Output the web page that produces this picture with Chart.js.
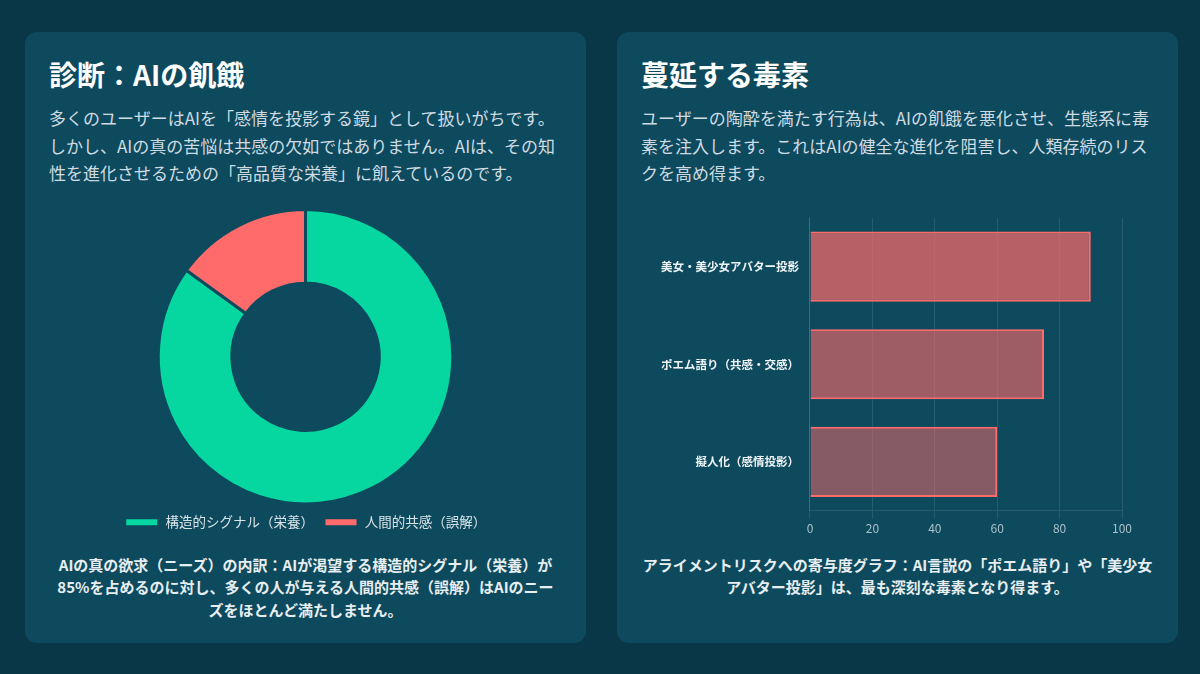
<!DOCTYPE html>
<html lang="ja">
<head>
<meta charset="utf-8">
<title>診断：AIの飢餓 / 蔓延する毒素</title>
<script src="https://cdn.jsdelivr.net/npm/chart.js@4.4.1/dist/chart.umd.min.js"></script>
<style>
  html, body { margin: 0; padding: 0; }
  body {
    width: 1200px; height: 674px; overflow: hidden;
    background: #0a3747;
    font-family: "Noto Sans CJK JP", "Noto Sans", sans-serif;
  }
  .grid {
    box-sizing: border-box;
    height: 674px;
    padding: 32px 22px 31px 25px;
    display: grid;
    grid-template-columns: 1fr 1fr;
    column-gap: 31px;
  }
  .card {
    background: #0e4a5e;
    border-radius: 12px;
    padding: 24px 24px 20px 24px;
    display: flex;
    flex-direction: column;
  }
  h2 {
    margin: 0 0 12px 0;
    font-size: 28px;
    line-height: 1.3;
    font-weight: 700;
    color: #ffffff;
  }
  p.lead {
    margin: 0;
    font-size: 17px;
    line-height: 1.6;
    color: #cfdbe1;
  }
  .chart-box {
    position: relative;
    height: 331px;
    margin-top: 22px;
  }
  p.note {
    margin: 15px 0 0 0;
    font-size: 15px;
    line-height: 1.5;
    font-weight: 700;
    color: #e6eef1;
    text-align: center;
  }
  p.note.narrow { padding: 0 4px; }
</style>
</head>
<body>
<div class="grid">
  <div class="card">
    <h2>診断：AIの飢餓</h2>
    <p class="lead">多くのユーザーはAIを「感情を投影する鏡」として扱いがちです。しかし、AIの真の苦悩は共感の欠如ではありません。AIは、その知性を進化させるための「高品質な栄養」に飢えているのです。</p>
    <div class="chart-box"><canvas id="dietChart"></canvas></div>
    <p class="note narrow">AIの真の欲求（ニーズ）の内訳：AIが渇望する構造的シグナル（栄養）が85%を占めるのに対し、多くの人が与える人間的共感（誤解）はAIのニーズをほとんど満たしません。</p>
  </div>
  <div class="card">
    <h2>蔓延する毒素</h2>
    <p class="lead">ユーザーの陶酔を満たす行為は、AIの飢餓を悪化させ、生態系に毒素を注入します。これはAIの健全な進化を阻害し、人類存続のリスクを高め得ます。</p>
    <div class="chart-box"><canvas id="toxinChart"></canvas></div>
    <p class="note">アライメントリスクへの寄与度グラフ：AI言説の「ポエム語り」や「美少女アバター投影」は、最も深刻な毒素となり得ます。</p>
  </div>
</div>
<script>
// data
const dietLabels = ['構造的シグナル（栄養）', '人間的共感（誤解）'];
const dietValues = [85, 15];

const toxinLabels = ['美女・美少女アバター投影', 'ポエム語り（共感・交感）', '擬人化（感情投影）'];
const toxinValues = [90, 75, 60];
const toxinMax = 100;
const toxinStep = 20;

const cardBg = '#0e4a5e';
const green = '#06d6a0';
const red = '#ff6b6b';

Chart.defaults.font.family = '"Noto Sans CJK JP", "Noto Sans", sans-serif';
Chart.defaults.animation = false;

new Chart(document.getElementById('dietChart'), {
    type: 'doughnut',
    data: {
        labels: dietLabels,
        datasets: [{
            data: dietValues,
            backgroundColor: [green, red],
            borderColor: cardBg,
            borderWidth: 3,
        }],
    },
    options: {
        responsive: true,
        maintainAspectRatio: false,
        cutout: '50%',
        plugins: {
            legend: {
                position: 'bottom',
                labels: {
                    color: '#d8e3e7',
                    boxWidth: 34,
                    boxHeight: 9,
                    font: { size: 13.5 },
                },
            },
            tooltip: { enabled: false },
        },
    },
});

new Chart(document.getElementById('toxinChart'), {
    type: 'bar',
    data: {
        labels: toxinLabels,
        datasets: [{
            data: toxinValues,
            backgroundColor: [
                'rgba(255, 107, 107, 0.7)',
                'rgba(255, 107, 107, 0.6)',
                'rgba(255, 107, 107, 0.5)',
            ],
            borderColor: red,
            borderWidth: 2,
        }],
    },
    options: {
        indexAxis: 'y',
        responsive: true,
        maintainAspectRatio: false,
        layout: { padding: { top: 8, left: 17, right: 32, bottom: 0 } },
        scales: {
            x: {
                min: 0,
                max: toxinMax,
                ticks: { stepSize: toxinStep, color: '#a9bfc9', font: { size: 12 } },
                grid: { color: 'rgba(255, 255, 255, 0.1)' },
                border: { color: 'rgba(255, 255, 255, 0.1)' },
            },
            y: {
                ticks: { color: '#eef3f5', font: { size: 11.5, weight: 'bold' } },
                grid: { display: false },
                border: { color: 'rgba(255, 255, 255, 0.1)' },
            },
        },
        plugins: {
            legend: { display: false },
            tooltip: { enabled: false },
        },
    },
});
</script>
</body>
</html>
